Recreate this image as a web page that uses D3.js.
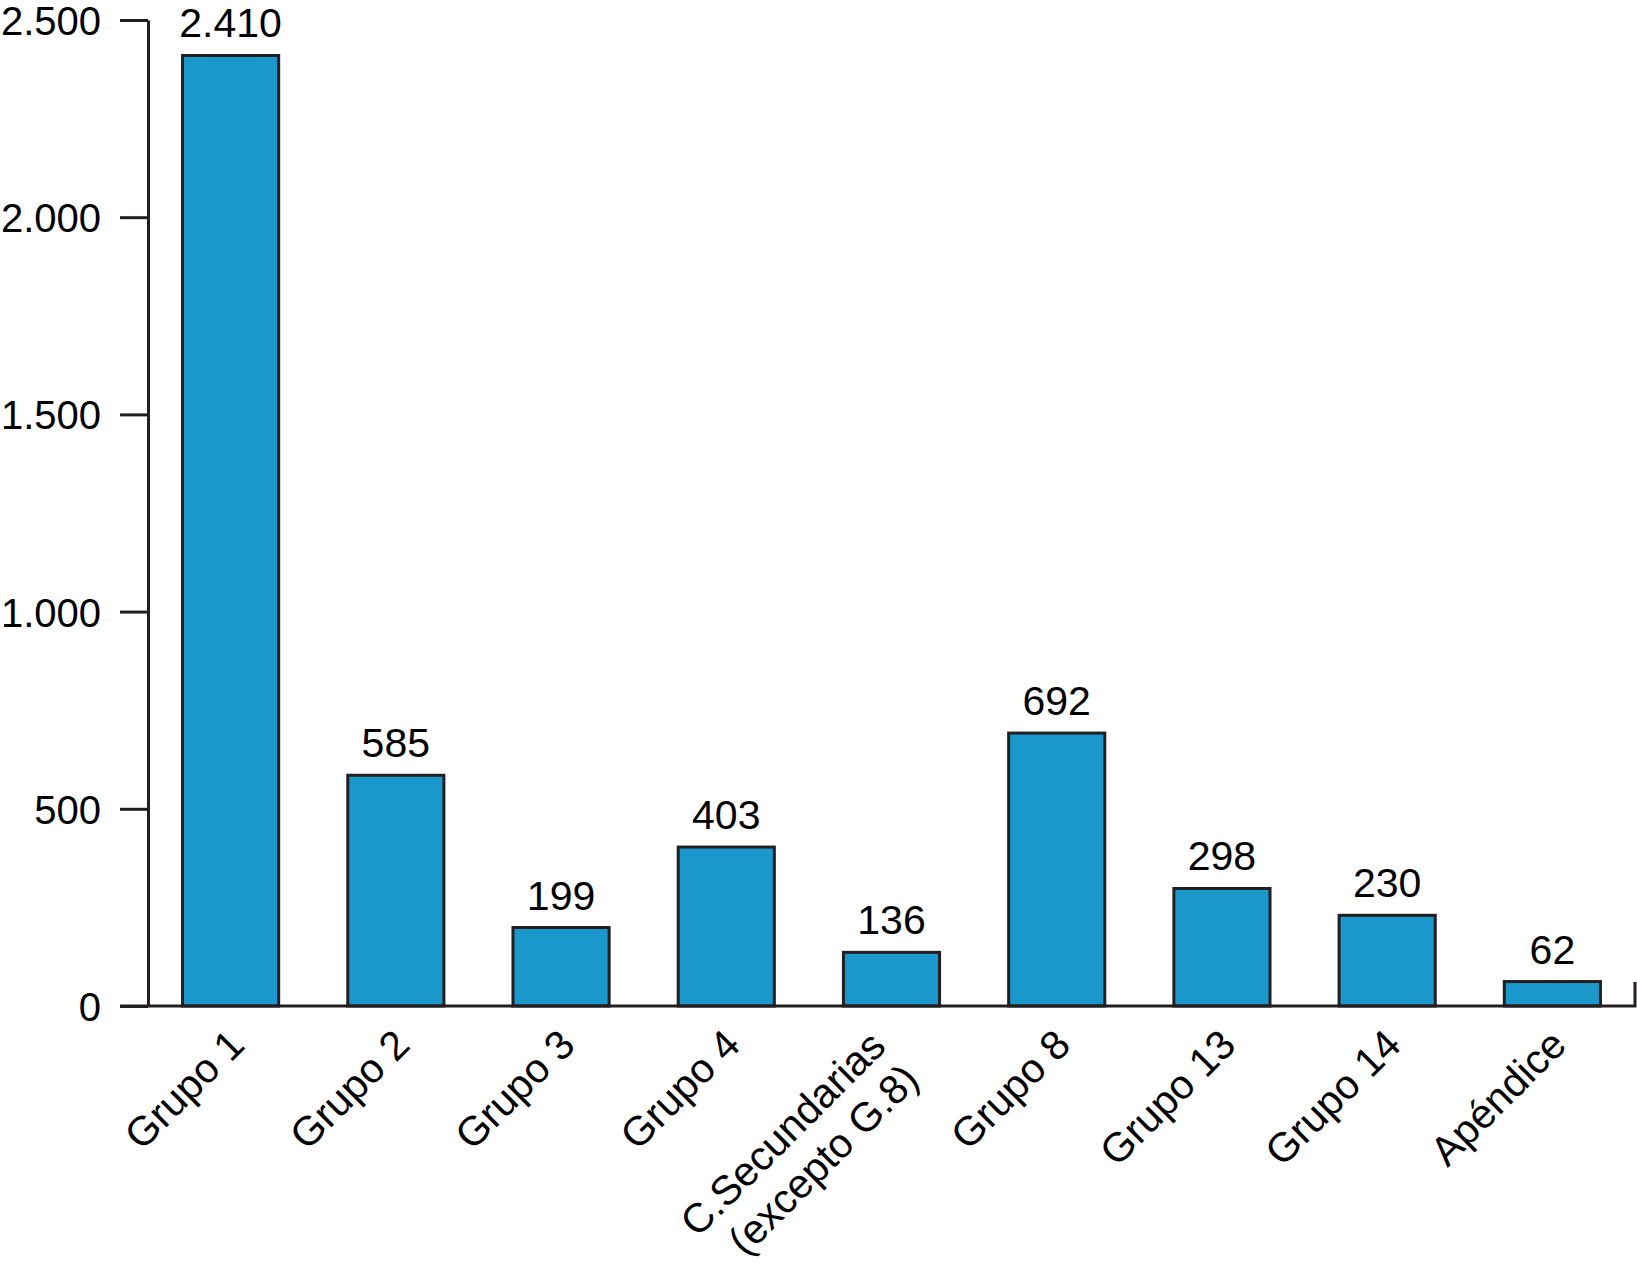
<!DOCTYPE html>
<html>
<head>
<meta charset="utf-8">
<script src="https://cdn.jsdelivr.net/npm/d3@7"></script>
<style>
  html, body { margin: 0; padding: 0; background: #ffffff; }
  svg { display: block; }
  text { font-family: "Liberation Sans", Arial, Helvetica, sans-serif; fill: #000; }
</style>
</head>
<body>
<svg id="chart" width="1637" height="1281"></svg>
<script>
// ---- data ----
const categories = ["Grupo 1", "Grupo 2", "Grupo 3", "Grupo 4", "C.Secundarias\n(excepto G.8)", "Grupo 8", "Grupo 13", "Grupo 14", "Apéndice"];
const values = [2410, 585, 199, 403, 136, 692, 298, 230, 62];
const yTicks = [0, 500, 1000, 1500, 2000, 2500];

// ---- layout ----
const W = 1637, H = 1281;
const axisX = 148, baseY = 1006, topY = 20, rightX = 1635;
const tickLen = 28;
const fontSize = 41;
const tickFontSize = 40;
const catFontSize = 41;
const barFill = "#1a98cc";
const ink = "#231f20";

const loc = d3.formatLocale({ decimal: ",", thousands: ".", grouping: [3], currency: ["", "€"] });
const fmt = loc.format(",");

const svg = d3.select("#chart");

const x = d3.scaleBand().domain(categories).range([axisX, rightX]).paddingInner(0.4).paddingOuter(0.2);
const y = d3.scaleLinear().domain([0, 2500]).range([baseY, topY]);

// bars
svg.append("g").selectAll("rect")
  .data(values)
  .join("rect")
  .attr("x", (d, i) => x(categories[i]) + 1.5)
  .attr("width", x.bandwidth() - 3)
  .attr("y", d => y(d))
  .attr("height", d => y(0) - y(d))
  .attr("fill", barFill)
  .attr("stroke", ink)
  .attr("stroke-width", 3);

// value labels
svg.append("g").selectAll("text")
  .data(values)
  .join("text")
  .attr("x", (d, i) => x(categories[i]) + x.bandwidth() / 2)
  .attr("y", d => y(d) - 18)
  .attr("text-anchor", "middle")
  .style("font-size", fontSize + "px")
  .text(d => fmt(d));

// y axis
const yAxis = d3.axisLeft(y).tickValues(yTicks).tickFormat(fmt)
  .tickSize(tickLen).tickSizeOuter(0).tickPadding(19);
const gy = svg.append("g").attr("transform", `translate(${axisX},0)`).call(yAxis);
gy.select(".domain").attr("stroke", ink).attr("stroke-width", 3);
gy.selectAll(".tick line").attr("stroke", ink).attr("stroke-width", 3);
gy.selectAll(".tick text").style("font-size", tickFontSize + "px").attr("fill", "#000")
  .style("font-family", "'Liberation Sans', Arial, Helvetica, sans-serif")
  .attr("dy", "0.36em");

// x axis baseline + right end tick
svg.append("path")
  .attr("d", d3.line()([[axisX - tickLen, y(0)], [rightX, y(0)], [rightX, y(0) - 24]]))
  .attr("fill", "none")
  .attr("stroke", ink)
  .attr("stroke-width", 3);

// category labels (rotated)
const lineGap = 47;
const labels = svg.append("g").selectAll("text")
  .data(categories)
  .join("text")
  .attr("transform", d => `translate(${x(d) + x.bandwidth() / 2 + 16},${baseY + 41}) rotate(-45)`)
  .attr("text-anchor", "end")
  .style("font-size", catFontSize + "px");

labels.each(function (d) {
  const lines = d.split("\n");
  const t = d3.select(this);
  const n = lines.length;
  lines.forEach((ln, i) => {
    t.append("tspan")
      .attr("x", n > 1 ? -15 : 0)
      .attr("y", n > 1 ? -13 + i * lineGap : 0)
      .text(ln);
  });
});
</script>
</body>
</html>
